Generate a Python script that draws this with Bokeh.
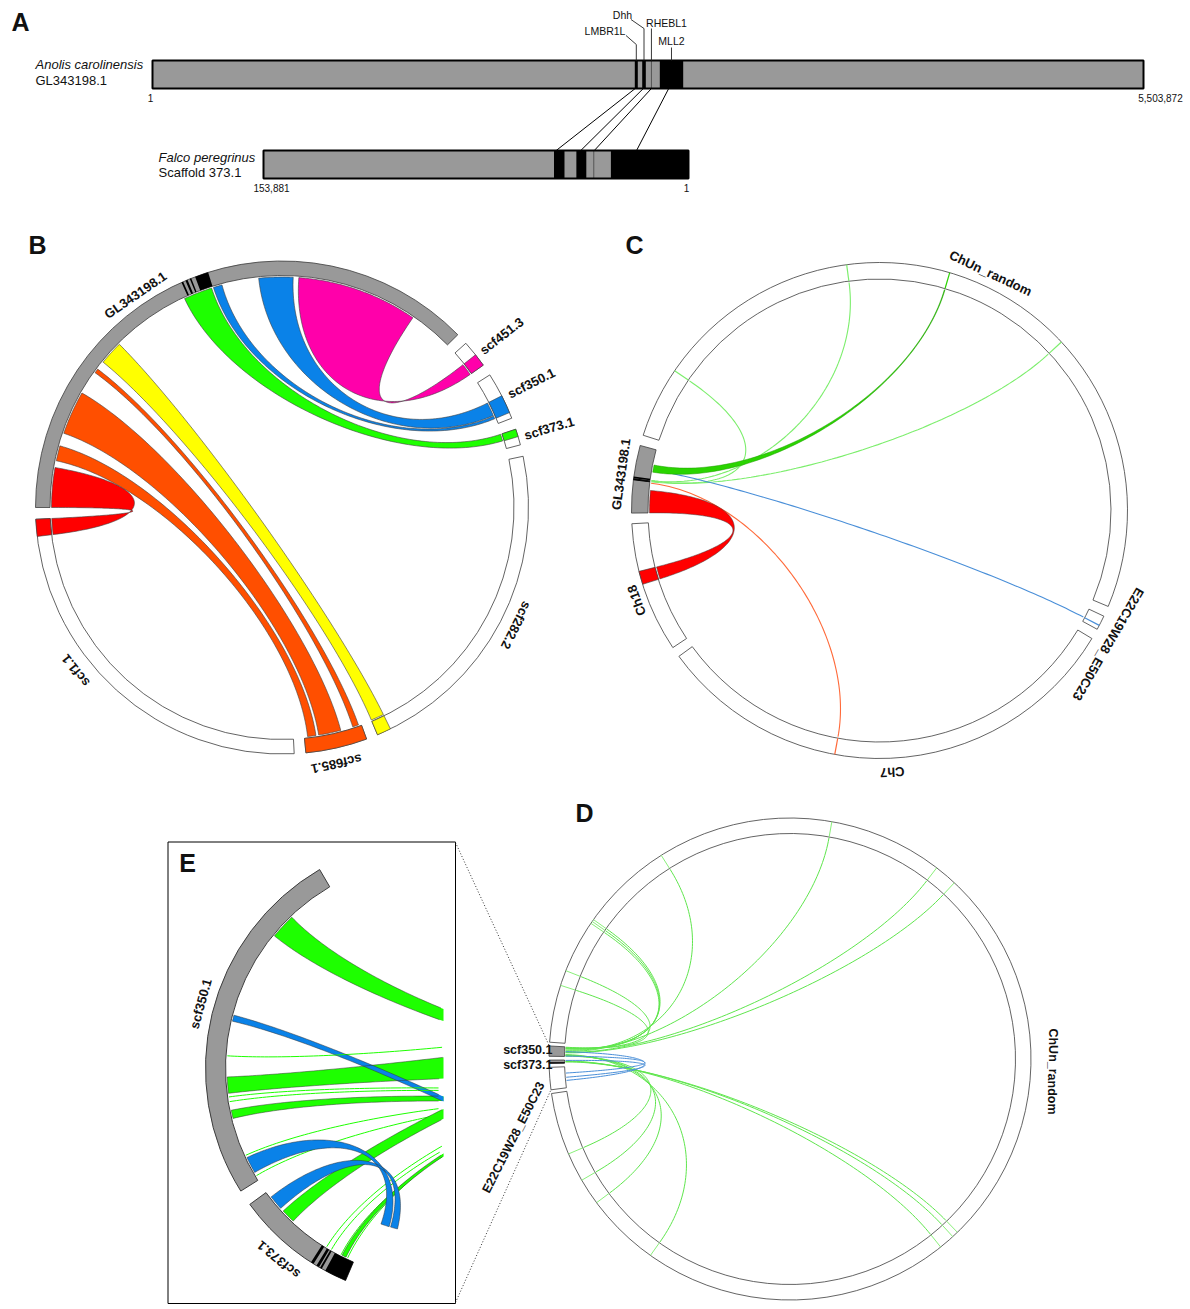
import numpy as np
from bokeh.plotting import figure
from bokeh.core.properties import value
from bokeh.embed import file_html
from bokeh.resources import INLINE

W, H = 1190, 1309
SANS = value("Liberation Sans")
INK = "#111111"
GREY = "#999999"
EDGE = "#3c3c3c"

# ============================ data ============================
# A: Anolis GL343198.1 against falcon scaffold 373.1 (positions in kb)
ANOLIS_SPECIES = "Anolis carolinensis"
ANOLIS_SCAFFOLD = "GL343198.1"
FALCON_SPECIES = "Falco peregrinus"
FALCON_SCAFFOLD = "Scaffold 373.1"
ANOLIS_LEN_KB = 5503.872
FALCON_LEN_KB = 153.881
GENE_NAMES = ["LMBR1L", "Dhh", "RHEBL1", "MLL2"]
ANOLIS_GENE_START_KB = [2678.6, 2719.8, 2771.0, 2817.5]
ANOLIS_GENE_END_KB = [2695.3, 2739.8, 2771.0, 2947.4]
ANOLIS_LINK_KB = [2681.0, 2726.0, 2771.0, 2867.0]
FALCON_GENE_START_KB = [44.9, 37.0, 34.3, 0.0]
FALCON_GENE_END_KB = [48.7, 40.6, 34.3, 28.1]
FALCON_LINK_KB = [47.9, 39.0, 34.1, 18.8]
ANOLIS_TICKS = ["1", "5,503,872"]
FALCON_TICKS = ["153,881", "1"]

# B: GL343198.1 against falcon scaffolds
B_NAMES = ["GL343198.1", "scf451.3", "scf350.1", "scf373.1", "scf282.2", "scf685.1", "scf1.1"]
B_LEN_KB = [5503.872, 264.0, 459.0, 153.881, 3217.0, 589.0, 3660.0]
B_LINK_TARGET = ["scf1.1", "scf685.1", "scf685.1", "scf685.1", "scf282.2",
                 "scf373.1", "scf350.1", "scf350.1", "scf451.3"]
B_LINK_GL_START = [0, 475, 763, 1454, 1588, 2640, 2953, 3420, 3826]
B_LINK_GL_END = [406, 630, 1210, 1499, 1832, 2933, 3043, 3769, 5061]
B_LINK_T_START = [3497, 471, 215, 28, 3083, 0, 374, 227, 142]
B_LINK_T_END = [3660, 556, 443, 89, 3217, 70, 402, 366, 264]
B_LINK_COLOR = ["#ff0000", "#ff4f00", "#ff4f00", "#ff4f00", "#ffff00",
                "#1eff00", "#0a82e8", "#0a82e8", "#ff00aa"]
B_HL_TARGET = ["scf451.3", "scf350.1", "scf373.1", "scf282.2", "scf685.1", "scf1.1"]
B_HL_START = [142, 227, 0, 3083, 0, 3497]
B_HL_END = [264, 402, 73, 3217, 589, 3660]
B_HL_COLOR = ["#ff00aa", "#0a82e8", "#1eff00", "#ffff00", "#ff4f00", "#ff0000"]

# C: GL343198.1 against chicken chromosomes
C_NAMES = ["GL343198.1", "ChUn_random", "E22C19W28_E50C23", "Ch7", "Ch18"]
C_LEN_KB = [5503.872, 64479.0, 1184.0, 39328.0, 10625.0]
C_LINK_TARGET = ["Ch18", "ChUn_random", "ChUn_random", "ChUn_random", "ChUn_random",
                 "E22C19W28_E50C23", "Ch7"]
C_LINK_GL_START = [0, 3553, 2821, 2717, 2786, 3762, 2577]
C_LINK_GL_END = [1950, 4180, 2821, 2717, 2786, 3762, 2577]
C_LINK_T_START = [5663, 30900, 22549, 41636, 5796, 829, 24144]
C_LINK_T_END = [6743, 30960, 22549, 41636, 5796, 829, 24144]
C_LINK_COLOR = ["#ff0000", "#2ad400", "#7cee6c", "#7cee6c", "#7cee6c", "#4a8fd8", "#ff6a3a"]
C_LINK_EDGE = ["#404040", "#1f9a00", None, None, None, None, None]

# D: falcon scaffolds 350.1 / 373.1 against chicken
D_NAMES = ["ChUn_random", "E22C19W28_E50C23", "scf373.1", "scf350.1"]
D_LEN_KB = [64900.0, 1000.0, 153.881, 459.0]
D_LINK_SRC = ["scf350.1"] * 13 + ["scf373.1"] * 3
D_LINK_SRC_KB = [440, 420, 390, 375, 360, 300, 250, 200, 180, 20, 40, 60, 90, 60, 80, 100]
D_LINK_DST_KB = [2575, 3266, 5650, 5750, 5850, 10022, 17916, 23048, 24074,
                 62108, 60802, 59607, 56248, 41430, 41710, 42419]
D_BLUE_SRC = ["scf350.1", "scf350.1", "scf373.1"]
D_BLUE_SRC_KB = [20, 230, 135]
D_BLUE_DST_KB = [700, 350, 500]

# E: detail of scf350.1 / scf373.1
E_NAMES = ["scf373.1", "scf350.1"]
E_LEN_KB = [153.881, 459.0]
E_LINK_SRC = ["scf350.1", "scf350.1", "scf350.1", "scf350.1", "scf350.1", "scf350.1",
              "scf350.1", "scf350.1", "scf373.1", "scf373.1", "scf373.1", "scf373.1",
              "scf373.1", "scf373.1", "scf350.1"]
E_LINK_S_START = [357.5, 178, 126.5, 121.5, 115, 91.5, 38, 6.5, 100, 42, 34.5, 19.5, 9.5, 12, 226]
E_LINK_S_END = [392.5, 178, 149, 121.5, 115, 103, 38, 6.5, 119.5, 42, 34.5, 19.5, 9.5, 18, 234.5]
E_LINK_T_START = [30016, 24880, 26500, 37155, 37590, 38940, 37860, 37320, 27580,
                  35150, 36770, 37860, 34080, 35700, 50830]
E_LINK_T_END = [31640, 24880, 33530, 37155, 37590, 40020, 37860, 37320, 29750,
                35150, 36770, 37860, 34080, 36200, 51920]
E_LINK_COLOR = ["#1eff00"] * 14 + ["#0a82e8"]
E_E22_SRC = ["scf350.1", "scf373.1"]
E_E22_S_START = [11.5, 124.5]
E_E22_S_END = [34.5, 145.0]
E_E22_T_START = [607, 393]
E_E22_T_END = [821, 571]

# ============================ figure ============================
p = figure(width=W, height=H, x_range=(0, W), y_range=(0, H),
           output_backend="svg", toolbar_location=None,
           x_axis_location=None, y_axis_location=None, min_border=0)
p.xgrid.visible = False
p.ygrid.visible = False
p.outline_line_color = None
p.background_fill_color = "white"
p.border_fill_color = "white"


def Y(py):
    return H - py


def text(x, y, s, size="13px", style="bold", angle=0.0, align="center", baseline="middle", color=INK):
    p.text(x=[x], y=[y], text=[s], angle=[float(np.radians(angle))], text_font=SANS,
           text_font_size=size, text_font_style=style, text_align=align,
           text_baseline=baseline, text_color=color)


def arc_xy(cx, cy, r, a0, a1):
    n = int(abs(a1 - a0) * 3) + 2
    t = np.radians(np.linspace(a0, a1, n))
    return cx + r * np.cos(t), cy + r * np.sin(t)


def bezier_xy(cx, cy, r0, a0, r1, a1, k=0.53, n=90):
    t0, t1 = np.radians(a0), np.radians(a1)
    p0 = np.array([r0 * np.cos(t0), r0 * np.sin(t0)])
    p3 = np.array([r1 * np.cos(t1), r1 * np.sin(t1)])
    s = np.linspace(0.0, 1.0, n)[:, None]
    b = ((1 - s) ** 3) * p0 + 3 * ((1 - s) ** 2) * s * (k * p0) \
        + 3 * (1 - s) * (s ** 2) * (k * p3) + (s ** 3) * p3
    return cx + b[:, 0], cy + b[:, 1]


def ribbon_parts(cx, cy, rs, s1, s2, rt, t1, t2):
    s1, s2 = min(s1, s2), max(s1, s2)
    t1, t2 = min(t1, t2), max(t1, t2)
    shift = (t1 - s2) % 360.0 - (t1 - s2)
    t1, t2 = t1 + shift, t2 + shift
    return [arc_xy(cx, cy, rs, s1, s2),
            bezier_xy(cx, cy, rs, s2, rt, t1),
            arc_xy(cx, cy, rt, t1, t2),
            bezier_xy(cx, cy, rt, t2, rs, s1 + 360.0)]


def join(parts):
    return np.concatenate([q[0] for q in parts]), np.concatenate([q[1] for q in parts])


class Circ:
    def __init__(self, cx, cy, names, lengths, start, gap, scale=None):
        self.cx, self.cy = cx, cy
        self.names = list(names)
        self.lengths = np.asarray(lengths, float)
        if scale is None:
            scale = (360.0 - gap * len(self.lengths)) / self.lengths.sum()
        self.scale = scale
        steps = self.lengths * scale + gap
        self.starts = start - np.concatenate([[0.0], np.cumsum(steps)[:-1]])

    def ang(self, name, kb):
        i = self.names.index(name)
        return self.starts[i] - np.asarray(kb, float) * self.scale

    def xy(self, r, deg):
        t = np.radians(deg)
        return float(self.cx + r * np.cos(t)), float(self.cy + r * np.sin(t))


def wedges(cx, cy, r_in, r_out, lo_deg, hi_deg, fills, line_color, lw):
    n = len(lo_deg)
    p.annular_wedge(x=[cx] * n, y=[cy] * n, inner_radius=r_in, outer_radius=r_out,
                    start_angle=[float(np.radians(a)) for a in lo_deg],
                    end_angle=[float(np.radians(a)) for a in hi_deg],
                    fill_color=fills, line_color=line_color, line_width=lw)


def ring(c, r_in, r_out, fills, lw=0.8):
    n = len(c.names)
    lo = [c.starts[i] - c.lengths[i] * c.scale for i in range(n)]
    wedges(c.cx, c.cy, r_in, r_out, lo, list(c.starts), fills, EDGE, lw)


def boxes(c, r_in, r_out, names, starts, ends, colors, line_color=None, lw=0.6, min_deg=0.0):
    a0, a1 = [], []
    for nm, s, e in zip(names, starts, ends):
        u, v = sorted([float(c.ang(nm, s)), float(c.ang(nm, e))])
        if v - u < min_deg:
            m = 0.5 * (u + v)
            u, v = m - min_deg / 2, m + min_deg / 2
        a0.append(u)
        a1.append(v)
    wedges(c.cx, c.cy, r_in, r_out, a0, a1, colors, line_color, lw)


def tan_label(c, s, deg, r, size="13px"):
    x, y = c.xy(r, deg)
    text(x, y, s, size=size, angle=deg - 90)


def rad_label(c, s, deg, r, size="13px"):
    x, y = c.xy(r, deg)
    text(x, y, s, size=size, angle=deg, align="left")


# ============================ panel A ============================
TOP_L, TOP_R, TOP_T, TOP_B = 152.0, 1143.0, 60.0, 88.0
BOT_L, BOT_R, BOT_T, BOT_B = 263.0, 688.0, 150.0, 178.0


def top_x(kb):
    return TOP_L + np.asarray(kb, float) / ANOLIS_LEN_KB * (TOP_R - TOP_L)


def bot_x(kb):
    return BOT_R - np.asarray(kb, float) / FALCON_LEN_KB * (BOT_R - BOT_L)


p.quad(left=[TOP_L, BOT_L], right=[TOP_R, BOT_R], top=[Y(TOP_T), Y(BOT_T)],
       bottom=[Y(TOP_B), Y(BOT_B)], fill_color=GREY, line_color=None)
bl, br, bt, bb = [], [], [], []
lx, ly0, ly1 = [], [], []
for s, e in zip(ANOLIS_GENE_START_KB, ANOLIS_GENE_END_KB):
    if e > s:
        bl.append(float(top_x(s))); br.append(float(top_x(e)))
        bt.append(Y(TOP_T)); bb.append(Y(TOP_B))
    else:
        lx.append(float(top_x(s))); ly0.append(Y(TOP_T)); ly1.append(Y(TOP_B))
for s, e in zip(FALCON_GENE_START_KB, FALCON_GENE_END_KB):
    if e > s:
        bl.append(float(bot_x(e))); br.append(float(bot_x(s)))
        bt.append(Y(BOT_T)); bb.append(Y(BOT_B))
    else:
        lx.append(float(bot_x(s))); ly0.append(Y(BOT_T)); ly1.append(Y(BOT_B))
p.quad(left=bl, right=br, top=bt, bottom=bb, fill_color="black", line_color=None)
p.segment(x0=lx, y0=ly0, x1=lx, y1=ly1, line_color="#555555", line_width=1)
p.quad(left=[TOP_L, BOT_L], right=[TOP_R, BOT_R], top=[Y(TOP_T), Y(BOT_T)],
       bottom=[Y(TOP_B), Y(BOT_B)], fill_color=None, line_color="black", line_width=2)

# orthologue connectors
p.segment(x0=[float(v) for v in top_x(ANOLIS_LINK_KB)], y0=[Y(TOP_B)] * 4,
          x1=[float(v) for v in bot_x(FALCON_LINK_KB)], y1=[Y(BOT_T)] * 4,
          line_color="black", line_width=1)

# gene labels with leader lines
gene_mid = [float(top_x(0.5 * (s + e))) for s, e in zip(ANOLIS_GENE_START_KB, ANOLIS_GENE_END_KB)]
label_xy = [(604.5, 30.0), (622.0, 14.5), (666.0, 22.5), (671.0, 40.0)]
leader_start = [(625.5, 35.0, 44.0), (630.5, 19.0, 28.0), (None, 28.0, 28.0), (None, 47.0, 47.0)]
lxs, lys = [], []
for xm, (x0, y0, yk) in zip(gene_mid, leader_start):
    if x0 is None:
        lxs.append([xm, xm]); lys.append([Y(y0), Y(TOP_T)])
    else:
        lxs.append([x0, xm, xm]); lys.append([Y(y0), Y(yk), Y(TOP_T)])
p.multi_line(xs=lxs, ys=lys, line_color="#222222", line_width=0.9)
for g, (x, y) in zip(GENE_NAMES, label_xy):
    text(x, Y(y), g, size="10.5px", style="normal")

text(35, Y(64), ANOLIS_SPECIES, size="13px", style="italic", align="left")
text(35, Y(80), ANOLIS_SCAFFOLD, size="13px", style="normal", align="left")
text(158, Y(157), FALCON_SPECIES, size="13px", style="italic", align="left")
text(158, Y(172), FALCON_SCAFFOLD, size="13px", style="normal", align="left")
text(TOP_L - 2, Y(97), ANOLIS_TICKS[0], size="10px", style="normal")
text(TOP_R + 17, Y(97), ANOLIS_TICKS[1], size="10px", style="normal")
text(BOT_L + 8, Y(187), FALCON_TICKS[0], size="10px", style="normal")
text(BOT_R - 2, Y(187), FALCON_TICKS[1], size="10px", style="normal")

# ============================ panel B ============================
B = Circ(281.5, Y(507.0), B_NAMES, B_LEN_KB, 180.0, 2.73)
B_RI, B_RO, B_RL = 232.0, 246.5, 230.5
ring(B, B_RI, B_RO, [GREY] + ["white"] * (len(B_NAMES) - 1))
boxes(B, B_RI, B_RO, ["GL343198.1"] * 4, ANOLIS_GENE_START_KB, ANOLIS_GENE_END_KB,
      ["black"] * 4, min_deg=0.35)
boxes(B, B_RI, B_RO, B_HL_TARGET, B_HL_START, B_HL_END, B_HL_COLOR, line_color=EDGE, lw=0.6)
xs, ys = [], []
for tgt, gs, ge, ts, te in zip(B_LINK_TARGET, B_LINK_GL_START, B_LINK_GL_END,
                               B_LINK_T_START, B_LINK_T_END):
    a1, a2 = B.ang("GL343198.1", [gs, ge])
    b1, b2 = B.ang(tgt, [ts, te])
    x, y = join(ribbon_parts(B.cx, B.cy, B_RL, a1, a2, B_RL, b1, b2))
    xs.append(x); ys.append(y)
p.patches(xs=xs, ys=ys, fill_color=B_LINK_COLOR, line_color="#404040", line_width=0.6)

tan_label(B, "GL343198.1", 124.6, 258.0)
rad_label(B, "scf451.3", 38.0, 253.0)
rad_label(B, "scf350.1", 26.5, 253.0)
rad_label(B, "scf373.1", 16.5, 253.0)
tan_label(B, "scf282.2", -26.7, 262.0)
tan_label(B, "scf685.1", -78.0, 262.0)
tan_label(B, "scf1.1", 218.3, 263.0)

# ============================ panel C ============================
C = Circ(879.0, Y(510.0), C_NAMES, C_LEN_KB, 180.6, 2.46)
C_RI, C_RO, C_RL = 231.5, 248.0, 230.0
ring(C, C_RI, C_RO, [GREY] + ["white"] * (len(C_NAMES) - 1))
boxes(C, C_RI, C_RO, ["GL343198.1"] * 4, ANOLIS_GENE_START_KB, ANOLIS_GENE_END_KB,
      ["black"] * 4, min_deg=0.2)
boxes(C, C_RI, C_RO, ["Ch18"], [C_LINK_T_START[0]], [C_LINK_T_END[0]], ["#ff0000"],
      line_color=EDGE, lw=0.6)
rx, ry, rc, re = [], [], [], []
lxs, lys, lcs = [], [], []
tx0, ty0, tx1, ty1, tc = [], [], [], [], []
for tgt, gs, ge, ts, te, col, edge in zip(C_LINK_TARGET, C_LINK_GL_START, C_LINK_GL_END,
                                          C_LINK_T_START, C_LINK_T_END, C_LINK_COLOR,
                                          C_LINK_EDGE):
    a1, a2 = C.ang("GL343198.1", [gs, ge])
    b1, b2 = C.ang(tgt, [ts, te])
    if ge > gs:
        x, y = join(ribbon_parts(C.cx, C.cy, C_RL, a1, a2, C_RL, b1, b2))
        rx.append(x); ry.append(y); rc.append(col); re.append(edge)
    else:
        x, y = bezier_xy(C.cx, C.cy, C_RL, a1, C_RL, b1)
        lxs.append(x); lys.append(y); lcs.append(col)
    if tgt != "Ch18":
        bm = 0.5 * (b1 + b2)
        x0, y0 = C.xy(C_RI, bm)
        x1, y1 = C.xy(C_RO, bm)
        tx0.append(x0); ty0.append(y0); tx1.append(x1); ty1.append(y1); tc.append(col)
p.segment(x0=tx0, y0=ty0, x1=tx1, y1=ty1, line_color=tc, line_width=1.2)
p.multi_line(xs=lxs, ys=lys, line_color=lcs, line_width=1.1)
p.patches(xs=rx, ys=ry, fill_color=rc, line_color=re, line_width=0.5)

tan_label(C, "ChUn_random", 64.9, 262.0)
tan_label(C, "GL343198.1", 172.0, 261.0)
tan_label(C, "Ch18", 200.3, 259.0)
tan_label(C, "Ch7", -87.2, 262.0)
tan_label(C, "E22C19W28_E50C23", -30.3, 265.0)

# ============================ panel D ============================
D = Circ(789.5, Y(1058.5), D_NAMES, D_LEN_KB, 176.0, 0.9)
D_RI, D_RO, D_RL = 225.5, 241.0, 224.5
ring(D, D_RI, D_RO, ["white", "white", GREY, GREY])
boxes(D, D_RI, D_RO, ["scf373.1"] * 4, FALCON_GENE_START_KB, FALCON_GENE_END_KB,
      ["black"] * 4, min_deg=0.08)
lxs, lys = [], []
tx0, ty0, tx1, ty1 = [], [], [], []
for src, skb, dkb in zip(D_LINK_SRC, D_LINK_SRC_KB, D_LINK_DST_KB):
    a = float(D.ang(src, skb))
    b = float(D.ang("ChUn_random", dkb))
    x, y = bezier_xy(D.cx, D.cy, D_RL, a, D_RL, b)
    lxs.append(x); lys.append(y)
    x0, y0 = D.xy(D_RI, b)
    x1, y1 = D.xy(D_RO, b)
    tx0.append(x0); ty0.append(y0); tx1.append(x1); ty1.append(y1)
p.segment(x0=tx0, y0=ty0, x1=tx1, y1=ty1, line_color="#8af07a", line_width=1)
p.multi_line(xs=lxs, ys=lys, line_color="#5fe64d", line_width=1)
bxs, bys = [], []
for src, skb, dkb in zip(D_BLUE_SRC, D_BLUE_SRC_KB, D_BLUE_DST_KB):
    a = float(D.ang(src, skb))
    b = float(D.ang("E22C19W28_E50C23", dkb))
    x, y = bezier_xy(D.cx, D.cy, D_RL, a, D_RL, b)
    bxs.append(x); bys.append(y)
p.multi_line(xs=bxs, ys=bys, line_color="#4a8fd8", line_width=1)

text(552, Y(1049), "scf350.1", size="12.5px", align="right")
text(552, Y(1064), "scf373.1", size="12.5px", align="right")
text(513, Y(1137), "E22C19W28_E50C23", size="12.5px", angle=63.0)
text(1052, Y(1071), "ChUn_random", size="12.5px", angle=-90.0)

# ============================ panel E ============================
E = Circ(435.5, Y(1068.0), E_NAMES, E_LEN_KB, 246.9, 4.0, scale=0.2)
E_RI, E_RO, E_RL = 210.5, 230.5, 209.0
E_CLIP = 443.0
E_CHUN_START, E_CHUN_SCALE = 60.0, 120.0 / 64900.0
E_E22_START, E_E22_SCALE, E_E22_R = 262.0, 0.014, 165.0
ring(E, E_RI, E_RO, [GREY, GREY], lw=1.0)
boxes(E, E_RI, E_RO, ["scf373.1"] * 4, FALCON_GENE_START_KB, FALCON_GENE_END_KB,
      ["black"] * 4, min_deg=0.5)


def clip_poly(x, y, xmax):
    ox, oy = [], []
    n = len(x)
    for i in range(n):
        x0, y0, x1, y1 = x[i - 1], y[i - 1], x[i], y[i]
        in0, in1 = x0 <= xmax, x1 <= xmax
        if in1:
            if not in0:
                t = (xmax - x0) / (x1 - x0)
                ox.append(xmax); oy.append(y0 + t * (y1 - y0))
            ox.append(x1); oy.append(y1)
        elif in0:
            t = (xmax - x0) / (x1 - x0)
            ox.append(xmax); oy.append(y0 + t * (y1 - y0))
    return np.array(ox), np.array(oy)


def clip_line(x, y, xmax):
    x = np.array(x, float).copy()
    y = np.array(y, float).copy()
    out = x > xmax
    x[out] = np.nan
    y[out] = np.nan
    return x, y


def e_links(srcs, s0s, s1s, t0s, t1s, cols, target_ang, rt):
    fx, fy, fc = [], [], []
    ex, ey, ecol, ew = [], [], [], []
    for src, s0, s1, t0, t1, col in zip(srcs, s0s, s1s, t0s, t1s, cols):
        a1, a2 = float(E.ang(src, s0)), float(E.ang(src, s1))
        b1, b2 = target_ang(t0), target_ang(t1)
        if s1 > s0:
            parts = ribbon_parts(E.cx, E.cy, E_RL, a1, a2, rt, b1, b2)
            x, y = clip_poly(*join(parts), E_CLIP)
            fx.append(x); fy.append(y); fc.append(col)
            for q in parts:
                qx, qy = clip_line(q[0], q[1], E_CLIP)
                ex.append(qx); ey.append(qy); ecol.append("#333333"); ew.append(0.5)
        else:
            qx, qy = clip_line(*bezier_xy(E.cx, E.cy, E_RL, a1, rt, b1), E_CLIP)
            ex.append(qx); ey.append(qy); ecol.append(col); ew.append(1.0)
    if fx:
        p.patches(xs=fx, ys=fy, fill_color=fc, line_color=None)
    p.multi_line(xs=ex, ys=ey, line_color=ecol, line_width=ew)


e_links(E_LINK_SRC, E_LINK_S_START, E_LINK_S_END, E_LINK_T_START, E_LINK_T_END,
        E_LINK_COLOR, lambda kb: E_CHUN_START - kb * E_CHUN_SCALE, E_RL)
e_links(E_E22_SRC, E_E22_S_START, E_E22_S_END, E_E22_T_START, E_E22_T_END,
        ["#0a82e8"] * 2, lambda kb: E_E22_START - kb * E_E22_SCALE, E_E22_R)

tan_label(E, "scf350.1", 164.6, 244.0)
tan_label(E, "scf373.1", 230.5, 247.6)

# E frame and pointers to the magnified region of D
p.quad(left=[167.5], right=[455.0], top=[Y(841.5)], bottom=[Y(1303.0)],
       fill_color=None, line_color="black", line_width=1)
d_top = D.xy(D_RO, float(D.starts[3] - D.lengths[3] * D.scale))
d_bot = D.xy(D_RO, float(D.starts[1]))
p.segment(x0=[455.0, 455.0], y0=[Y(842.0), Y(1302.0)], x1=[d_top[0], d_bot[0]],
          y1=[d_top[1], d_bot[1]], line_color="#333333", line_width=1, line_dash="1 2")

# panel letters
for s, (x, y) in zip("ABCDE", [(20, 21), (37, 244), (634, 244), (584, 812), (187, 862)]):
    text(x, Y(y), s, size="25px")

open("out.html", "w").write(file_html(p, INLINE))
